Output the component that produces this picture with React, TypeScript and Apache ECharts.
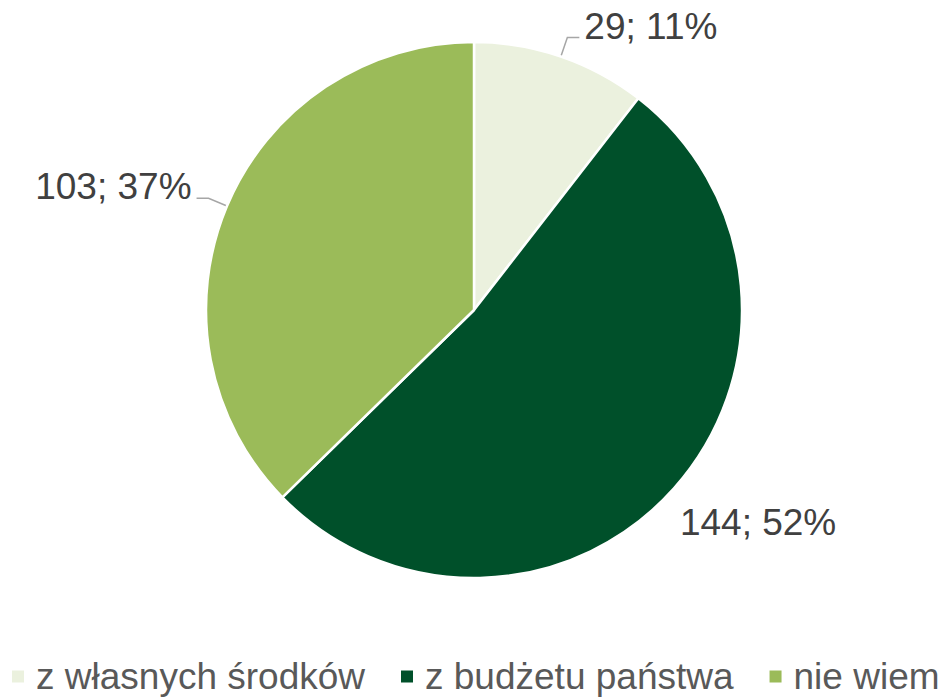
import React, { useEffect, useRef } from "react";
import * as echarts from "echarts";

const categories = ["z własnych środków", "z budżetu państwa", "nie wiem"];
const values = [29, 144, 103];
const percents = ["11%", "52%", "37%"];
const colors = ["#EBF1DE", "#00502A", "#9BBB59"];
const labelShift = [
  { dx: 0, dy: -11 },
  { dx: -26, dy: 21 },
  { dx: 0, dy: -12 },
];

export default function App() {
  const ref = useRef<HTMLDivElement>(null);
  useEffect(() => {
    const chart = echarts.init(ref.current!, null, { renderer: "svg" });
    const data = categories.map((name, i) => ({
      name,
      value: values[i],
      itemStyle: { color: colors[i] },
      label: { formatter: `${values[i]}; ${percents[i]}` },
      labelLine: i === 1 ? { show: false } : undefined,
    }));
    chart.setOption({
      animation: false,
      backgroundColor: "#ffffff",
      textStyle: { fontFamily: "Liberation Sans, Arial, sans-serif" },
      legend: {
        bottom: 3,
        left: 10,
        width: 934,
        padding: 0,
        icon: "rect",
        itemWidth: 14,
        itemHeight: 14,
        itemGap: 34,
        data: categories,
        textStyle: {
          fontSize: 37,
          color: "#595959",
          padding: [0, 0, 0, 6],
          fontFamily: "Liberation Sans, Arial, sans-serif",
        },
      },
      series: [
        {
          type: "pie",
          center: [474, 310],
          radius: [0, 268],
          startAngle: 90,
          clockwise: true,
          data,
          itemStyle: { borderColor: "#ffffff", borderWidth: 2.5 },
          label: {
            show: true,
            position: "outside",
            fontSize: 37,
            color: "#404040",
            fontFamily: "Liberation Sans, Arial, sans-serif",
          },
          labelLine: {
            show: true,
            length: 20,
            length2: 12,
            lineStyle: { color: "#A6A6A6", width: 1.5 },
          },
          labelLayout: (params: any) => labelShift[params.dataIndex],
        },
      ],
    });
    return () => chart.dispose();
  }, []);
  return (
    <div
      ref={ref}
      style={{ position: "fixed", left: 0, top: 0, width: 944, height: 698 }}
    />
  );
}
